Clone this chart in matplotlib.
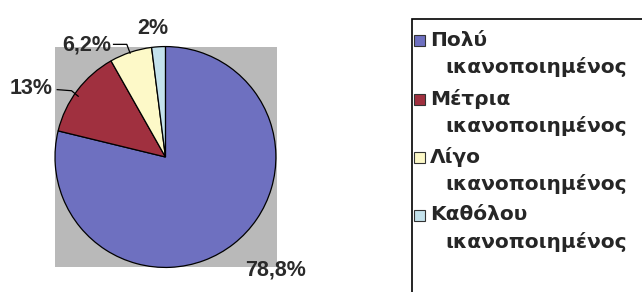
import matplotlib
matplotlib.use("Agg")
import matplotlib.pyplot as plt
from matplotlib.patches import Rectangle

# data
categories = ["Πολύ\nικανοποιημένος", "Μέτρια\nικανοποιημένος",
              "Λίγο\nικανοποιημένος", "Καθόλου\nικανοποιημένος"]
values = [78.8, 13, 6.2, 2]
value_labels = ["78,8%", "13%", "6,2%", "2%"]
colors = ["#6e70c0", "#a0303f", "#fdf9c8", "#c4e2ec"]

fig = plt.figure(figsize=(6.42, 2.92), dpi=100)
W, H = 642, 292

# pie axes: centre (166,157) px, radius 111 px
cx, cy, r = 166, 157, 111
ax = fig.add_axes([(cx - r) / W, (H - cy - r) / H, 2 * r / W, 2 * r / H])
ax.add_patch(Rectangle((-1, -1), 2.01, 2, facecolor="#b9b9b9",
                       edgecolor="none", zorder=0))
ax.pie(values, colors=colors, startangle=90, counterclock=False, radius=1,
       wedgeprops=dict(edgecolor="black", linewidth=0.9))
ax.set_xlim(-1, 1.01)
ax.set_ylim(-1, 1)
ax.set_aspect("equal")
ax.axis("off")

# percent labels
lab_pos = [(1.0, -1.02), (-1.22, 0.62), (-0.71, 1.01), (-0.11, 1.16)]
for (x, y), t in zip(lab_pos, value_labels):
    ax.text(x, y, t, ha="center", va="center", fontsize=15.5, fontweight="bold",
            family="Liberation Sans", color="#2a2a2a", clip_on=False)

# leader lines
ax.plot([-0.98, -0.85, -0.79], [0.61, 0.60, 0.55], color="black", lw=0.9, clip_on=False)
ax.plot([-0.47, -0.35, -0.32], [1.02, 1.02, 0.94], color="black", lw=0.9, clip_on=False)

# legend, drawn by hand so that it runs off the figure like the original
lx0, ly0 = 412, 19
fig.patches.append(Rectangle((lx0 / W, -0.1), 1.2, (H - ly0) / H + 0.1,
                             transform=fig.transFigure, facecolor="white",
                             edgecolor="black", linewidth=1.2, clip_on=False))
font = dict(fontsize=14.5, fontweight="bold", family="DejaVu Sans", color="#262626")
first_y = [40, 99, 157, 215]
for yy, lab, c in zip(first_y, categories, colors):
    l1, l2 = lab.split("\n")
    fig.patches.append(Rectangle((414 / W, (H - yy - 6) / H), 11 / W, 11 / H,
                                 transform=fig.transFigure, facecolor=c,
                                 edgecolor="#333333", linewidth=0.8))
    fig.text(430 / W, (H - yy) / H, l1, va="center", ha="left", **font)
    fig.text(445 / W, (H - yy - 27) / H, l2, va="center", ha="left", **font)

fig.savefig("out.png", dpi=100)
